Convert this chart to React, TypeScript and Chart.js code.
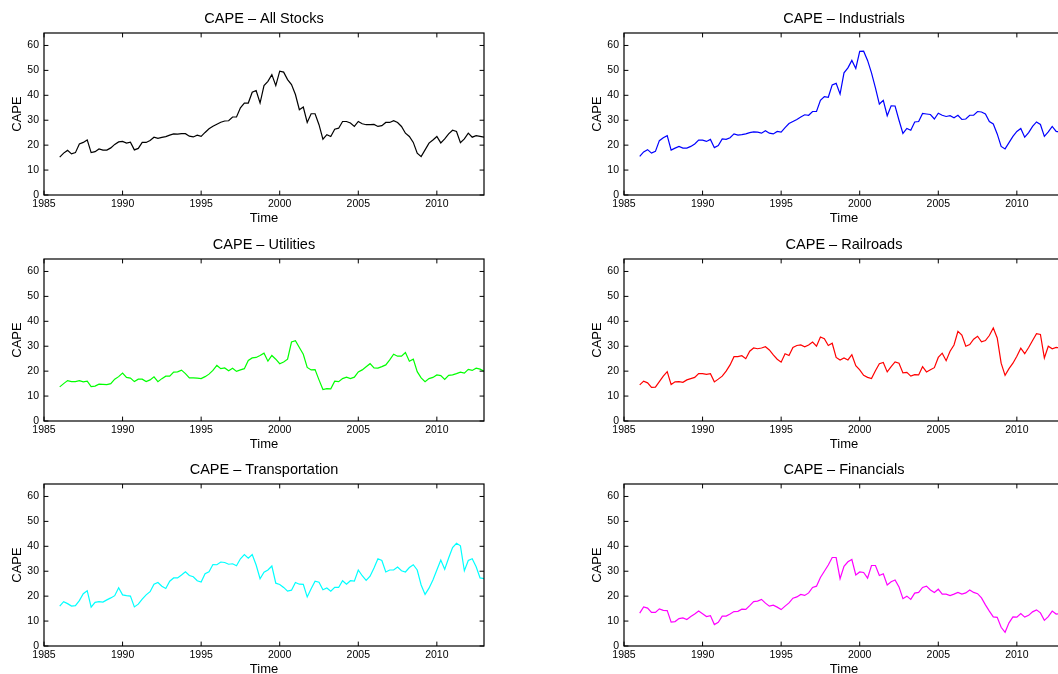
import React, { useEffect, useRef } from "react";
import { Chart, registerables } from "chart.js";

Chart.register(...registerables);

// ---- data (quarterly observations starting 1986.0) ----
const START_YEAR = 1986;
const PERIODS_PER_YEAR = 4;
const X_TICKS = [1985, 1990, 1995, 2000, 2005, 2010];
const Y_TICKS = [0, 10, 20, 30, 40, 50, 60];
const X_MIN = 1985;
const X_MAX = 2013;
const Y_MIN = 0;
const Y_MAX = 65;
const Y_LABEL = "CAPE";
const X_LABEL = "Time";

const ALL_STOCKS = [
  15.2, 16.8, 17.9, 16.5,
  17.0, 20.5, 21.1, 22.1,
  17.0, 17.4, 18.5, 18.0,
  18.0, 18.9, 20.3, 21.3,
  21.5, 20.8, 21.2, 18.1,
  18.7, 21.1, 21.1, 21.9,
  23.2, 22.7, 23.1, 23.4,
  24.0, 24.5, 24.4, 24.6,
  24.6, 23.6, 23.3, 24.0,
  23.5, 25.1, 26.6, 27.6,
  28.4, 29.2, 29.7, 29.8,
  31.3, 31.3, 35.0, 36.9,
  36.9, 41.2, 41.9, 36.9,
  43.9, 45.6, 48.3, 43.9,
  49.7, 49.3, 46.3, 44.3,
  40.3, 34.2, 35.3, 29.1,
  32.6, 32.6, 28.2, 22.4,
  24.2, 23.5, 26.4, 26.8,
  29.5, 29.5, 28.9, 27.5,
  29.5, 28.6, 28.2, 28.2,
  28.3, 27.5, 27.8, 29.1,
  29.1, 29.8, 29.1, 27.5,
  24.8, 23.5, 21.1, 16.8,
  15.4, 18.1, 20.8, 22.1,
  23.5, 20.9, 22.5, 24.5,
  26.0, 25.5, 21.0, 22.5,
  24.8, 23.2, 23.8, 23.5,
  23.2,
];

const INDUSTRIALS = [
  15.5, 17.3, 18.2, 16.8,
  17.5, 21.8, 23.0, 23.8,
  18.0, 18.8, 19.5, 18.8,
  18.8, 19.5, 20.5, 22.0,
  22.0, 21.5, 22.3, 19.0,
  19.8, 22.5, 22.3, 23.0,
  24.5, 24.0, 24.2, 24.5,
  25.0, 25.3, 25.2, 24.8,
  25.8, 24.8, 24.5, 25.5,
  25.2, 27.0, 28.7, 29.5,
  30.3, 31.3, 32.2, 32.0,
  33.5, 33.5, 38.0, 39.5,
  39.2, 44.2, 44.8, 40.5,
  49.0, 51.0, 54.0, 50.8,
  57.6, 57.7, 54.0, 49.0,
  43.0, 36.5, 38.0, 31.8,
  35.8, 35.7, 30.0, 24.7,
  26.7, 26.0, 29.3, 29.5,
  32.7, 32.5, 32.3, 30.5,
  32.8, 32.0, 31.5, 31.8,
  31.0, 32.0, 30.3, 30.5,
  32.0, 32.0, 33.5, 33.3,
  32.5, 29.5, 28.5, 24.5,
  19.5, 18.5, 21.0, 23.5,
  25.5, 26.7, 23.2, 25.0,
  27.5, 29.3, 28.3, 23.5,
  25.3, 27.5, 25.5, 25.2,
  25.5,
];

const UTILITIES = [
  13.7, 15.0, 16.2, 15.8,
  15.8, 16.2, 15.7, 16.0,
  13.8, 14.0, 14.8, 14.7,
  14.6, 15.0, 16.8, 17.8,
  19.2, 17.5, 17.2, 15.8,
  16.8, 16.8, 15.8, 16.5,
  17.7, 15.8, 17.0, 18.0,
  18.0, 19.6, 19.7, 20.4,
  19.0, 17.3, 17.3, 17.2,
  17.0, 17.8, 18.8, 20.3,
  22.3, 21.0, 21.3, 20.2,
  21.2, 19.9, 20.5, 21.0,
  24.3, 25.3, 25.5, 26.3,
  27.2, 24.0, 26.3, 24.8,
  23.0, 23.7, 24.8, 31.7,
  32.2, 29.5, 26.8, 21.5,
  20.5, 20.6, 16.5, 12.6,
  13.0, 12.9, 16.0, 15.8,
  17.0, 17.6, 17.0, 17.6,
  19.7, 20.5, 21.8, 23.0,
  21.3, 21.2, 21.8, 22.5,
  24.5, 26.8, 26.0, 26.0,
  27.5, 24.0, 24.8, 19.8,
  17.3, 15.8, 17.0, 17.5,
  18.5, 18.2, 16.7, 18.3,
  18.5, 19.0, 19.6, 19.2,
  20.7, 20.3, 21.2, 20.8,
  20.0,
];

const RAILROADS = [
  14.5, 16.0, 15.3, 13.5,
  13.6, 15.8, 18.0, 19.8,
  14.6, 15.7, 15.8, 15.5,
  16.5, 17.0, 17.5, 19.0,
  19.0, 18.7, 19.0, 15.7,
  16.8, 18.0, 20.0, 22.5,
  25.8, 25.8, 26.2, 25.0,
  28.0, 29.3, 29.0, 29.3,
  29.8, 28.5, 26.5, 24.8,
  23.6, 27.0, 26.3, 29.5,
  30.3, 30.5, 29.8, 30.5,
  31.7, 30.0, 33.7, 33.0,
  30.3, 31.2, 25.5, 24.5,
  25.3, 24.5, 26.6, 22.2,
  20.5, 18.3, 17.5, 17.0,
  20.2, 23.0, 23.5, 19.7,
  21.8, 23.7, 23.2, 19.3,
  19.5, 18.0, 18.6, 18.5,
  21.8, 19.7, 20.6, 21.4,
  25.5, 27.2, 24.2, 28.0,
  30.5, 36.0, 34.5, 30.0,
  30.7, 32.8, 34.0, 31.8,
  32.3, 34.3, 37.3, 33.3,
  23.2, 18.3, 21.0, 23.2,
  26.0, 29.2, 27.0, 29.5,
  32.3, 35.0, 34.7, 25.3,
  30.0, 29.0, 29.5, 29.3,
  29.5,
];

const TRANSPORTATION = [
  16.0, 17.8, 17.0, 16.0,
  16.2, 18.2, 21.0, 22.2,
  15.6, 17.5, 17.8, 17.6,
  18.5, 19.3, 20.2, 23.4,
  20.5, 20.2, 20.0, 15.7,
  16.8, 18.8, 20.5, 21.8,
  24.8, 25.5, 24.0, 23.1,
  26.0, 27.3, 27.3, 28.5,
  29.8, 28.3, 27.8, 26.2,
  25.7, 29.0, 29.8, 32.7,
  32.6, 33.7, 33.5, 32.8,
  33.0, 32.2, 35.0, 36.7,
  35.2, 36.7, 32.5, 27.0,
  29.6, 30.5, 32.1, 25.2,
  24.7, 23.5, 22.0, 22.4,
  25.5, 24.8, 24.7, 19.7,
  23.0, 26.0, 25.6, 22.6,
  23.3, 22.0, 23.5, 23.5,
  26.2, 24.8, 26.2, 26.0,
  30.5, 28.2, 26.3, 28.0,
  31.3, 35.0, 34.3, 29.7,
  30.5, 30.5, 31.7, 30.2,
  29.7, 31.5, 32.6, 30.5,
  24.5, 20.7, 23.2, 26.5,
  30.5, 34.5, 30.8, 35.3,
  39.5, 41.2, 40.2, 30.2,
  34.3, 35.0, 31.8, 27.3,
  27.0,
];

const FINANCIALS = [
  13.2, 15.7, 15.2, 13.5,
  13.5, 14.9, 14.3, 14.2,
  9.6, 9.8, 11.0, 11.3,
  10.6, 11.8, 12.8, 14.0,
  12.9, 11.8, 12.2, 8.6,
  9.5, 12.0, 12.0, 12.8,
  13.8, 13.9, 14.8, 14.7,
  16.2, 17.8, 18.0, 18.7,
  17.2, 16.0, 16.4, 15.6,
  14.6, 16.0, 17.3, 19.2,
  19.7, 20.7, 20.3, 21.3,
  23.5, 24.0, 27.5, 30.0,
  32.5, 35.5, 35.5, 27.0,
  32.0, 33.8, 34.7, 28.5,
  29.7, 29.5, 27.2, 32.3,
  32.3, 28.3, 29.0, 24.5,
  25.8, 26.5, 23.7, 19.0,
  20.0, 18.7, 21.2, 21.5,
  23.5, 24.0, 22.5, 21.5,
  22.8, 20.8, 20.8, 20.2,
  20.8, 21.5, 20.8, 21.3,
  22.5, 21.5, 21.0, 19.3,
  16.5, 14.0, 11.7, 11.5,
  7.5, 5.5, 9.3, 11.7,
  11.6, 13.0, 11.6, 12.3,
  13.7, 14.5, 13.3, 10.3,
  11.8, 14.0, 12.8, 13.0,
  13.0,
];

const DATES = ALL_STOCKS.map((_, i) => START_YEAR + i / PERIODS_PER_YEAR);

// ---- layout / style ----
const FONT_FAMILY = '"Liberation Sans", Arial, Helvetica, sans-serif';
const CANVAS_W = 500;
const CANVAS_H = 226;

type PanelSpec = {
  title: string;
  values: number[];
  color: string;
  left: number;
  top: number;
};

const PANELS: PanelSpec[] = [
  { title: "CAPE \u2013 All Stocks", values: ALL_STOCKS, color: "#000000", left: 0, top: 0 },
  { title: "CAPE \u2013 Industrials", values: INDUSTRIALS, color: "#0000ff", left: 580, top: 0 },
  { title: "CAPE \u2013 Utilities", values: UTILITIES, color: "#00ff00", left: 0, top: 226 },
  { title: "CAPE \u2013 Railroads", values: RAILROADS, color: "#ff0000", left: 580, top: 226 },
  { title: "CAPE \u2013 Transportation", values: TRANSPORTATION, color: "#00ffff", left: 0, top: 451 },
  { title: "CAPE \u2013 Financials", values: FINANCIALS, color: "#ff00ff", left: 580, top: 451 },
];

const frameTicksPlugin = {
  id: "frameTicks",
  afterDraw(chart: any) {
    const { ctx, chartArea, scales } = chart;
    const { left, right, top, bottom } = chartArea;
    const len = 4.4;
    ctx.save();
    ctx.strokeStyle = "#000";
    ctx.lineWidth = 1.2;
    ctx.strokeRect(left, top, right - left, bottom - top);
    ctx.lineWidth = 1;
    ctx.beginPath();
    for (const t of scales.x.ticks) {
      const px = scales.x.getPixelForValue(t.value);
      ctx.moveTo(px, bottom);
      ctx.lineTo(px, bottom - len);
      ctx.moveTo(px, top);
      ctx.lineTo(px, top + len);
    }
    for (const t of scales.y.ticks) {
      const py = scales.y.getPixelForValue(t.value);
      ctx.moveTo(left, py);
      ctx.lineTo(left + len, py);
      ctx.moveTo(right, py);
      ctx.lineTo(right - len, py);
    }
    ctx.stroke();
    ctx.restore();
  },
};

function Panel({ spec }: { spec: PanelSpec }) {
  const ref = useRef<HTMLCanvasElement | null>(null);
  useEffect(() => {
    if (!ref.current) return;
    const points = spec.values.map((v, i) => ({ x: DATES[i], y: v }));
    const chart = new Chart(ref.current, {
      type: "line",
      data: {
        datasets: [
          {
            data: points,
            borderColor: spec.color,
            borderWidth: 1.2,
            pointRadius: 0,
            tension: 0,
            fill: false,
          },
        ],
      },
      options: {
        animation: false,
        responsive: false,
        devicePixelRatio: 1,
        layout: { padding: { left: 0, right: 16, top: 0, bottom: 0 } },
        plugins: {
          legend: { display: false },
          tooltip: { enabled: false },
          title: {
            display: true,
            text: spec.title,
            fullSize: false,
            color: "#000",
            font: { family: FONT_FAMILY, size: 14.5, weight: "normal" },
            padding: { top: 10.3, bottom: 5.3 },
          },
        },
        scales: {
          x: {
            type: "linear",
            min: X_MIN,
            max: X_MAX,
            grid: { display: false, drawTicks: false },
            border: { display: false },
            afterBuildTicks: (scale: any) => {
              scale.ticks = X_TICKS.map((v) => ({ value: v }));
            },
            afterFit: (scale: any) => {
              scale.height = 31;
            },
            ticks: {
              color: "#000",
              padding: 3,
              maxRotation: 0,
              autoSkip: false,
              font: { family: FONT_FAMILY, size: 10.5 },
              callback: (v: any) => String(v),
            },
            title: {
              display: true,
              text: X_LABEL,
              color: "#000",
              font: { family: FONT_FAMILY, size: 13 },
              padding: { top: 0, bottom: 0 },
            },
          },
          y: {
            type: "linear",
            min: Y_MIN,
            max: Y_MAX,
            grid: { display: false, drawTicks: false },
            border: { display: false },
            afterBuildTicks: (scale: any) => {
              scale.ticks = Y_TICKS.map((v) => ({ value: v }));
            },
            afterFit: (scale: any) => {
              scale.width = 44;
            },
            ticks: {
              color: "#000",
              padding: 5,
              autoSkip: false,
              font: { family: FONT_FAMILY, size: 10.5 },
              callback: (v: any) => String(v),
            },
            title: {
              display: true,
              text: Y_LABEL,
              color: "#000",
              font: { family: FONT_FAMILY, size: 13 },
              padding: { top: 9.2, bottom: 0 },
            },
          },
        },
      },
      plugins: [frameTicksPlugin],
    });
    return () => chart.destroy();
  }, [spec]);
  return (
    <canvas
      ref={ref}
      width={CANVAS_W}
      height={CANVAS_H}
      style={{ position: "absolute", left: spec.left, top: spec.top, width: CANVAS_W, height: CANVAS_H }}
    />
  );
}

export default function App() {
  return (
    <div
      style={{
        position: "fixed",
        left: 0,
        top: 0,
        width: 1058,
        height: 674,
        overflow: "hidden",
        background: "#ffffff",
      }}
    >
      {PANELS.map((p) => (
        <Panel key={p.title} spec={p} />
      ))}
    </div>
  );
}
